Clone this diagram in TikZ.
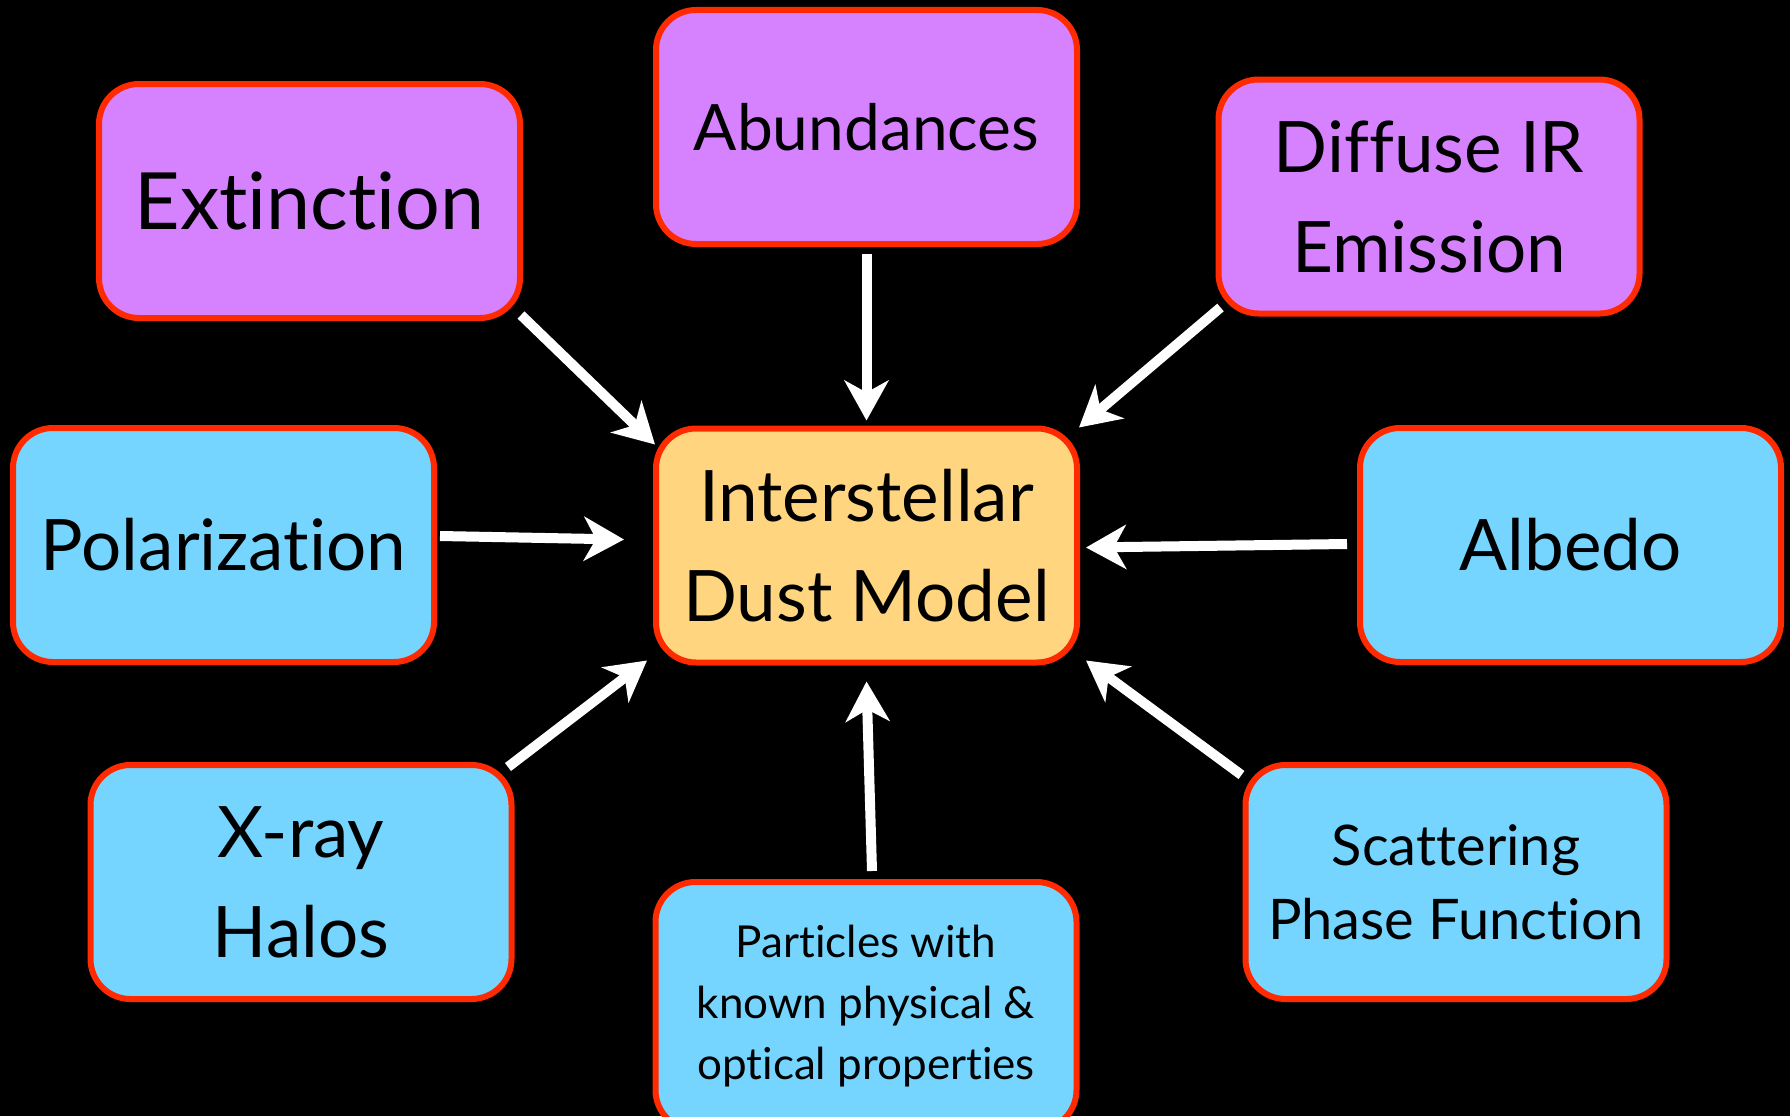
\documentclass[tikz,border=0pt]{standalone}
\usepackage{fontspec}
\setmainfont{Lato}[RawFeature={-liga;-clig;-calt;-dlig}]
\usetikzlibrary{arrows.meta}
\definecolor{bordred}{HTML}{FF2A00}
\definecolor{purp}{HTML}{D682FF}
\definecolor{skyb}{HTML}{75D5FF}
\definecolor{sand}{HTML}{FFD580}
\tikzset{
  box/.style={draw=bordred, line width=6pt, rounded corners=40pt,
    minimum width=421pt, minimum height=234pt, align=center,
    text=black, inner sep=0pt},
  pbox/.style={box, fill=purp},
  bbox/.style={box, fill=skyb},
  ybox/.style={box, fill=sand},
  big/.style={font=\fontsize{71}{100}\selectfont},
  arr/.style={draw=white, line width=10pt,
    -{Stealth[length=40pt, width=44pt, inset=12pt]}}
}
\begin{document}
\begin{tikzpicture}[x=1pt,y=-1pt]
\fill[black] (0,0) rectangle (1790,1116);
\useasboundingbox (0,0) rectangle (1790,1116);

\node[pbox, font=\fontsize{79}{100}\selectfont] (ext) at (309.5,201) {Extinction};
\node[pbox, font=\fontsize{64}{90}\selectfont] (abund) at (866.5,127) {Abundances};
\node[pbox, big] (diff) at (1429,196.5) {Diffuse IR\\Emission};
\node[bbox, big] (pol) at (223.5,545) {Polarization};
\node[ybox, big] (dust) at (866.5,545.5) {Interstellar\\Dust Model};
\node[bbox, big] (alb) at (1570.5,545) {Albedo};
\node[bbox, big] (xray) at (301,882) {X-ray\\Halos};
\node[bbox, font=\fontsize{56}{74}\selectfont] (scat) at (1456,882) {Scattering\\Phase Function};
\node[bbox, minimum height=248pt, font=\fontsize{44}{61}\selectfont] (part) at (866,1006) {Particles with\\known physical \&\\optical properties};

\draw[arr] ([shift={(-2,-6)}]ext.south east) -- ([shift={(2,19)}]dust.north west);
\draw[arr] ([shift={(0,7)}]abund.south) -- ([shift={(0,-5)}]dust.north);
\draw[arr] ([shift={(5,-9)}]diff.south west) -- ([shift={(-1,2)}]dust.north east);
\draw[arr] ([shift={(3,-9)}]pol.east) -- ([shift={(-29,-6)}]dust.west);
\draw[arr] ([shift={(-10,-1)}]alb.west) -- ([shift={(6,2)}]dust.east);
\draw[arr] ([shift={(-6.5,5)}]xray.north east) -- ([shift={(-6,-5)}]dust.south west);
\draw[arr] ([shift={(6,-8)}]part.north) -- ([shift={(0,16)}]dust.south);
\draw[arr] ([shift={(-1,13)}]scat.north west) -- ([shift={(6,-5)}]dust.south east);
\end{tikzpicture}
\end{document}
